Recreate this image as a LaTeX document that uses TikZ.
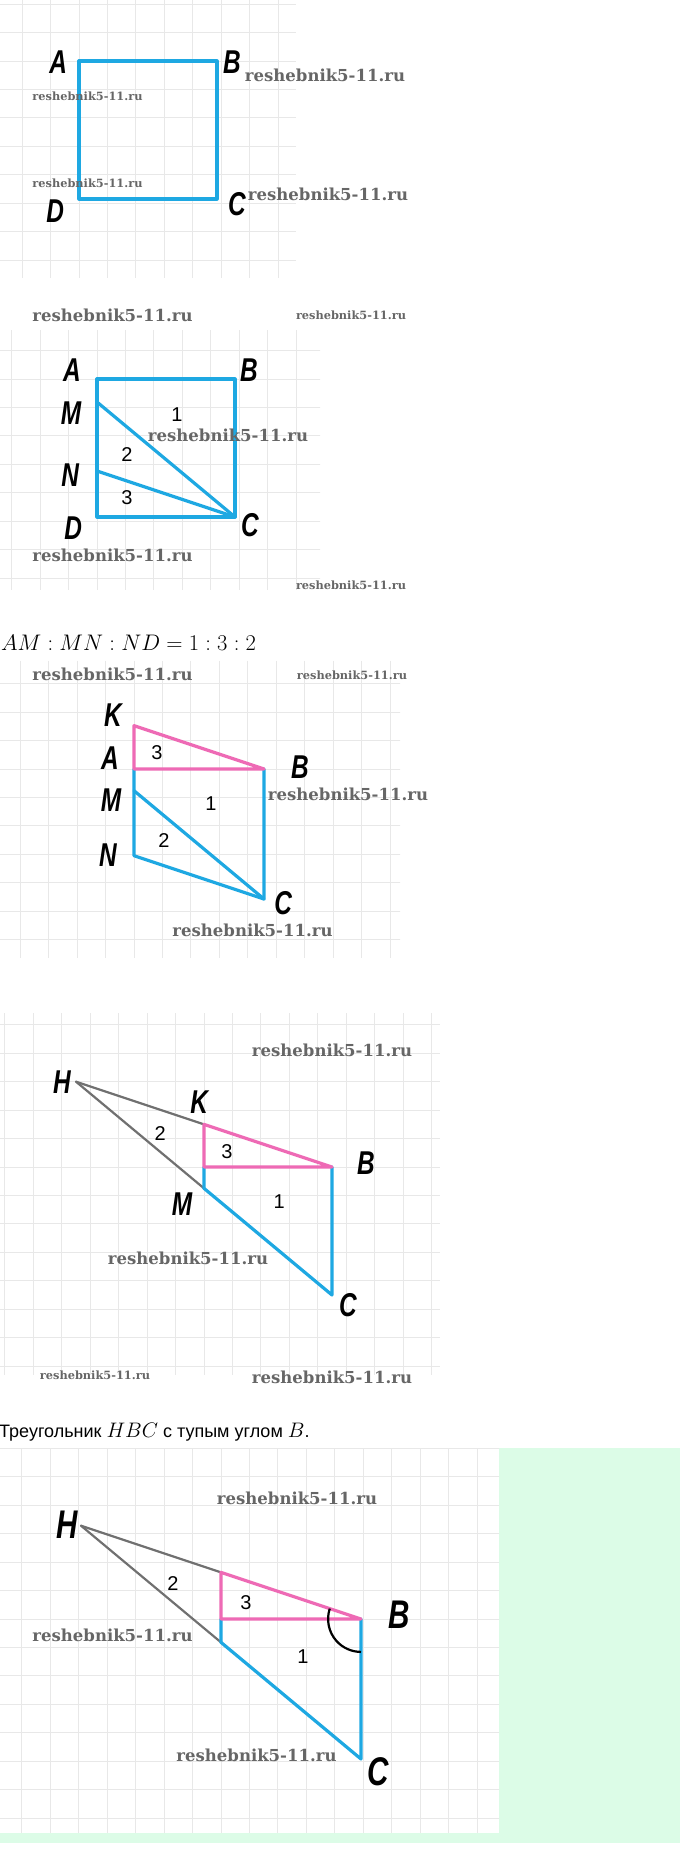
\RequirePackage{fix-cm}
\documentclass[tikz,border=0pt]{standalone}
\usepackage{fontspec}
\usepackage{graphicx}
\usepackage{tikz}
\usetikzlibrary{calc}
\newfontfamily\lblfont[FakeStretch=0.74]{Liberation Sans}
\newfontfamily\numfont{Liberation Sans}
\newfontfamily\rufont{Liberation Sans}
\newfontfamily\wmfont{DejaVu Serif}
\definecolor{figblue}{HTML}{1EA8E2}
\definecolor{figpink}{HTML}{EE6AB5}
\definecolor{figgray}{HTML}{707070}
\definecolor{gridgray}{HTML}{E8E8E8}
\definecolor{wmgray}{HTML}{666666}
\definecolor{mint}{HTML}{DCFCE7}
\newcommand{\wmk}[1]{\resizebox{#1pt}{!}{\wmfont\bfseries reshebnik5-11.ru}}
\newcommand{\bigmath}[1]{{\fontsize{21}{21}\selectfont$#1$}}

\begin{document}
\begin{tikzpicture}[x=1pt, y=1pt, yscale=-1,
	gridline/.style={line width=0.9pt, gridgray},
	side/.style={line width=3.2pt, figblue, line cap=round, line join=round},
	pinkside/.style={line width=3.2pt, figpink, line cap=round, line join=round},
	grayside/.style={line width=2.2pt, figgray, line cap=round},
	vlbl/.style={font=\lblfont\bfseries\itshape\fontsize{33}{33}\selectfont, inner sep=0pt},
	biglbl/.style={font=\lblfont\bfseries\itshape\fontsize{40}{40}\selectfont, inner sep=0pt},
	num/.style={font=\numfont\fontsize{20}{20}\selectfont, inner sep=0pt},
	wm/.style={inner sep=0pt, text=wmgray}]
	\useasboundingbox (0,0) rectangle (680,1876);
	\fill[white] (0,0) rectangle (680,1876);
	%\fill[mint] background of the last panel
	\fill[mint] (0,1448) rectangle (680,1843);
	\fill[white] (0,1448) rectangle (499,1833);

	% square ABCD
	\begin{scope}[shift={(79,61)}, x=23pt, y=23pt]
		\begin{scope}
			\clip (-3.43,-2.65) rectangle (9.43,9.43);
			\draw[gridline] (-4,-3) grid (10,10);
		\end{scope}
		\coordinate (A1) at (0,0);
		\coordinate (B1) at (6,0);
		\coordinate (C1) at (6,6);
		\coordinate (D1) at (0,6);
		\draw[side] (A1)--(B1)--(C1)--(D1)--cycle;
		\node[vlbl] (lA1) at (-0.91,0.04){A};
		\node[vlbl] (lB1) at (6.65,0.04){B};
		\node[vlbl] (lC1) at (6.87,6.22){C};
		\node[vlbl] (lD1) at (-1.04,6.52){D};
	\end{scope}
	\node[wm] (w1) at (87.5,96){\wmk{110}};
	\node[wm] (w2) at (87.5,183){\wmk{110}};
	\node[wm] (w3) at (325,75){\wmk{160}};
	\node[wm] (w4) at (328,194){\wmk{160}};

	% square cut by MC and NC
	\begin{scope}[shift={(97,379)}, x=23pt, y=23pt]
		\begin{scope}
			\clip (-4.22,-2.13) rectangle (9.70,9.17);
			\draw[gridline] (-5,-3) grid (10,10);
		\end{scope}
		\coordinate (A2) at (0,0);
		\coordinate (B2) at (6,0);
		\coordinate (C2) at (6,6);
		\coordinate (D2) at (0,6);
		\coordinate (M2) at (0,1);
		\coordinate (N2) at (0,4);
		\draw[side] (A2)--(B2)--(C2)--(D2)--cycle;
		\draw[side] (M2)--(C2);
		\draw[side] (N2)--(C2);
		\node[vlbl] (lA2) at (-1.09,-0.39){A};
		\node[vlbl] (lB2) at (6.61,-0.39){B};
		\node[vlbl] (lM2) at (-1.13,1.48){M};
		\node[vlbl] (lN2) at (-1.17,4.17){N};
		\node[vlbl] (lD2) at (-1.04,6.48){D};
		\node[vlbl] (lC2) at (6.65,6.35){C};
		\node[num] (n21) at (3.48,1.57){1};
		\node[num] (n22) at (1.30,3.30){2};
		\node[num] (n23) at (1.30,5.17){3};
	\end{scope}
	\node[wm] (w5) at (112.5,315){\wmk{160}};
	\node[wm] (w6) at (351,315){\wmk{110}};
	\node[wm] (w7) at (228,435){\wmk{160}};
	\node[wm] (w8) at (112.5,555){\wmk{160}};
	\node[wm] (w9) at (351,585){\wmk{110}};

	\node[anchor=base west, inner sep=0pt, font=\fontsize{22.5}{22.5}\selectfont] (ratio) at (1,650){$AM:MN:ND=1:3:2$};

	% triangle NDC moved up to KAB
	\begin{scope}[shift={(134,769)}, x=21.67pt, y=21.67pt]
		\begin{scope}
			\clip (-6.18,-5) rectangle (12.28,8.72);
			\draw[gridline] (-7,-5) grid (13,9);
		\end{scope}
		\coordinate (K3) at (0,-2);
		\coordinate (A3) at (0,0);
		\coordinate (B3) at (6,0);
		\coordinate (M3) at (0,1);
		\coordinate (N3) at (0,4);
		\coordinate (C3) at (6,6);
		\draw[side] (A3)--(N3)--(C3)--(B3);
		\draw[side] (M3)--(C3);
		\draw[pinkside] (K3)--(A3)--(B3)--cycle;
		\node[vlbl] (lK3) at (-0.97,-2.49){K};
		\node[vlbl] (lA3) at (-1.11,-0.51){A};
		\node[vlbl] (lB3) at (7.66,-0.09){B};
		\node[vlbl] (lM3) at (-1.06,1.43){M};
		\node[vlbl] (lN3) at (-1.2,3.97){N};
		\node[vlbl] (lC3) at (6.88,6.18){C};
		\node[num] (n33) at (1.06,-0.74){3};
		\node[num] (n31) at (3.55,1.62){1};
		\node[num] (n32) at (1.38,3.32){2};
	\end{scope}
	\node[wm] (w10) at (112.5,674){\wmk{160}};
	\node[wm] (w11) at (352,675){\wmk{110}};
	\node[wm] (w12) at (348,794){\wmk{160}};
	\node[wm] (w13) at (252.5,930){\wmk{160}};

	% triangle HBC
	\begin{scope}[shift={(204,1167)}, x=21.33pt, y=21.33pt]
		\begin{scope}
			\clip (-9.56,-7.22) rectangle (11.06,9.75);
			\draw[gridline] (-10,-8) grid (12,10);
		\end{scope}
		\coordinate (H4) at (-6,-4);
		\coordinate (K4) at (0,-2);
		\coordinate (A4) at (0,0);
		\coordinate (B4) at (6,0);
		\coordinate (M4) at (0,1);
		\coordinate (C4) at (6,6);
		\draw[grayside] (H4)--(K4);
		\draw[grayside] (H4)--(M4);
		\draw[side] (A4)--(M4)--(C4)--(B4);
		\draw[pinkside] (K4)--(A4)--(B4)--cycle;
		\node[vlbl] (lH4) at (-6.66,-3.98){H};
		\node[vlbl] (lK4) at (-0.23,-3.05){K};
		\node[vlbl] (lB4) at (7.59,-0.19){B};
		\node[vlbl] (lM4) at (-1.03,1.73){M};
		\node[vlbl] (lC4) at (6.75,6.47){C};
		\node[num] (n42) at (-2.06,-1.59){2};
		\node[num] (n43) at (1.08,-0.70){3};
		\node[num] (n41) at (3.52,1.64){1};
	\end{scope}
	\node[wm] (w14) at (332,1050){\wmk{160}};
	\node[wm] (w15) at (188,1258){\wmk{160}};
	\node[wm] (w16) at (95,1375){\wmk{110}};
	\node[wm] (w17) at (332,1377){\wmk{160}};

	\node[anchor=base west, inner sep=0pt, font=\rufont\fontsize{18}{18}\selectfont] (task) at (-1,1437){Треугольник \bigmath{HBC} с тупым углом \bigmath{B}.};

	% obtuse angle B
	\begin{scope}[shift={(221,1619)}, x=23.33pt, y=23.33pt]
		\begin{scope}
			\clip (-9.47,-7.33) rectangle (11.92,9.17);
			\draw[gridline] (-10,-8) grid (12,10);
		\end{scope}
		\coordinate (H5) at (-6,-4);
		\coordinate (K5) at (0,-2);
		\coordinate (A5) at (0,0);
		\coordinate (B5) at (6,0);
		\coordinate (M5) at (0,1);
		\coordinate (C5) at (6,6);
		\draw[grayside] (H5)--(K5);
		\draw[grayside] (H5)--(M5);
		\draw[side] (A5)--(M5)--(C5)--(B5);
		\draw[pinkside] (K5)--(A5)--(B5)--cycle;
		\draw[line width=2.2pt] (B5) ++(198.43:1.41) arc[start angle=198.43, end angle=90, radius=1.41];
		\node[biglbl] (lH5) at (-6.6,-4.03){H};
		\node[biglbl] (lB5) at (7.63,-0.17){B};
		\node[biglbl] (lC5) at (6.73,6.56){C};
		\node[num] (n52) at (-2.06,-1.54){2};
		\node[num] (n53) at (1.07,-0.69){3};
		\node[num] (n51) at (3.51,1.63){1};
	\end{scope}
	\node[wm] (w18) at (297,1498){\wmk{160}};
	\node[wm] (w19) at (112.5,1635){\wmk{160}};
	\node[wm] (w20) at (256.5,1755){\wmk{160}};
\end{tikzpicture}
\end{document}
